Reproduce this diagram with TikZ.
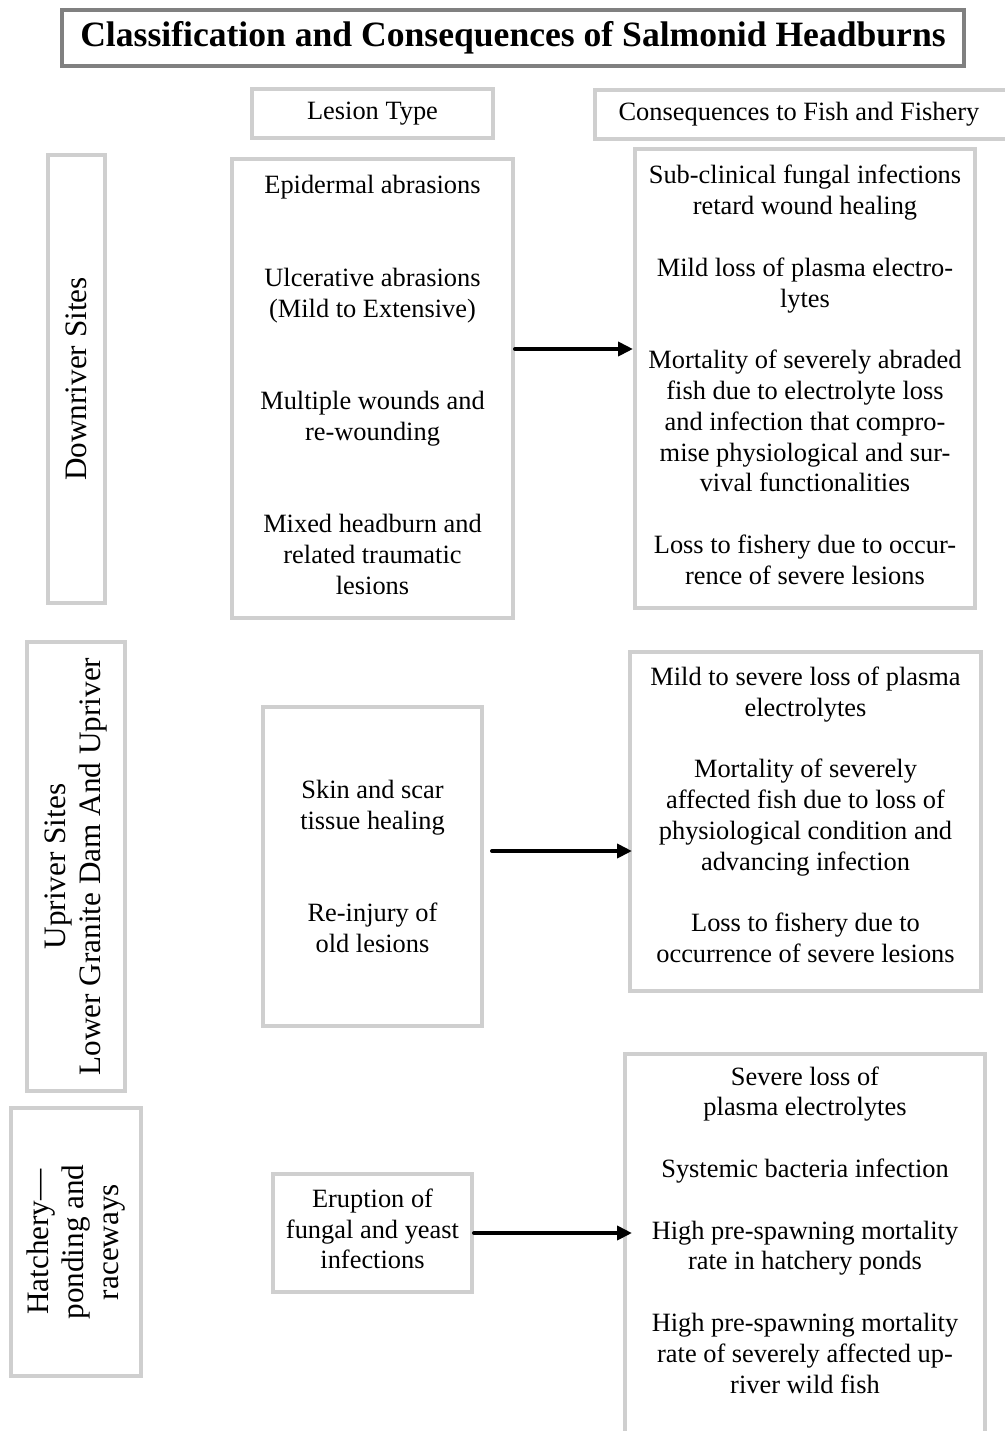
\documentclass[tikz,border=0pt]{standalone}
\usepackage{fontspec}
\setmainfont{Liberation Serif}
\usetikzlibrary{arrows.meta}
\newcommand\bodyfnt{\fontsize{13.2}{15.4}\selectfont}
\newcommand\sidefnt{\fontsize{15.6}{17.5}\selectfont}
\newcommand\titlefnt{\fontsize{17.8}{20}\selectfont\bfseries}
\begin{document}
\begin{tikzpicture}[x=0.5pt,y=-0.5pt,
  box/.style={draw=gray!38, line width=2pt, inner sep=0pt, align=center, font=\bodyfnt, fill=white},
  side/.style={box, rotate=90, font=\sidefnt},
  titlebox/.style={draw=gray, line width=2pt, inner sep=0pt, align=center, font=\titlefnt},
  plain/.style={inner sep=0pt, align=center, font=\bodyfnt},
  arr/.style={line width=2pt, line cap=round, -{Triangle[length=7.5pt,width=7pt]}}]
\useasboundingbox (0,0) rectangle (1005,1431);
\clip (0,0) rectangle (1005,1431);
\fill[white] (0,0) rectangle (1005,1431);

% title
\node[titlebox, minimum width=451pt, minimum height=28pt] (title) at (513,38)
  {Classification and Consequences of Salmonid Headburns};

% column headers
\node[box, minimum width=120.5pt, minimum height=24.5pt] (hdrL) at (372.5,113.5) {Lesion Type};
\node[box, minimum width=210pt, minimum height=24.5pt] (hdrC) at (805,114) {\hspace*{-6pt}Consequences to Fish and Fishery};

% row 1: downriver
\node[side, minimum width=224pt, minimum height=28.5pt] (down) at (76.5,379) {Downriver Sites};
\node[box, minimum width=140.5pt, minimum height=229.5pt] (les1) at (372.5,388.5) {};
\node[plain] (les1txt) at (372.5,385)
  {Epidermal abrasions\\[30.8pt]
   Ulcerative abrasions\\(Mild to Extensive)\\[30.8pt]
   Multiple wounds and\\re-wounding\\[30.8pt]
   Mixed headburn and\\related traumatic\\lesions};
\node[box, minimum width=170pt, minimum height=229.5pt] (cons1) at (805,378.5) {};
\node[plain] (cons1txt) at (805,375)
  {Sub-clinical fungal infections\\retard wound healing\\[15.4pt]
   Mild loss of plasma electro-\\lytes\\[15.4pt]
   Mortality of severely abraded\\fish due to electrolyte loss\\and infection that compro-\\mise physiological and sur-\\vival functionalities\\[15.4pt]
   Loss to fishery due to occur-\\rence of severe lesions};

% row 2: upriver
\node[side, minimum width=224.5pt, minimum height=49pt] (up) at (76,866.5)
  {Upriver Sites\\Lower Granite Dam And Upriver};
\node[box, minimum width=109.5pt, minimum height=159.5pt] (les2) at (372.5,866.5)
  {Skin and scar\\tissue healing\\[30.8pt]
   Re-injury of\\old lesions};
\node[box, minimum width=175.5pt, minimum height=169.5pt] (cons2) at (805.5,821.5) {};
\node[plain] (cons2txt) at (805.5,815)
  {Mild to severe loss of plasma\\electrolytes\\[15.4pt]
   Mortality of severely\\affected fish due to loss of\\physiological condition and\\advancing infection\\[15.4pt]
   Loss to fishery due to\\occurrence of severe lesions};

% row 3: hatchery
\node[side, minimum width=134pt, minimum height=65pt] (hat) at (76,1242)
  {Hatchery---\\ponding and\\raceways};
\node[box, minimum width=99.5pt, minimum height=59pt] (les3) at (372.5,1233) {};
\node[plain] (les3txt) at (372.5,1229)
  {Eruption of\\fungal and yeast\\infections};
\node[box, minimum width=180pt, minimum height=198pt] (cons3) at (805,1252) {};
\node[plain] (cons3txt) at (805,1230)
  {Severe loss of\\plasma electrolytes\\[15.4pt]
   Systemic bacteria infection\\[15.4pt]
   High pre-spawning mortality\\rate in hatchery ponds\\[15.4pt]
   High pre-spawning mortality\\rate of severely affected up-\\river wild fish};

% arrows
\coordinate (r1) at (0,349);
\coordinate (r2) at (0,851);
\coordinate (r3) at (0,1233);
\draw[arr] (les1.east |- r1) -- (cons1.west |- r1);
\draw[arr, shorten <=4pt, shorten >=-2pt] (les2.east |- r2) -- (cons2.west |- r2);
\draw[arr, shorten >=-4.5pt] (les3.east |- r3) -- (cons3.west |- r3);
\end{tikzpicture}
\end{document}
